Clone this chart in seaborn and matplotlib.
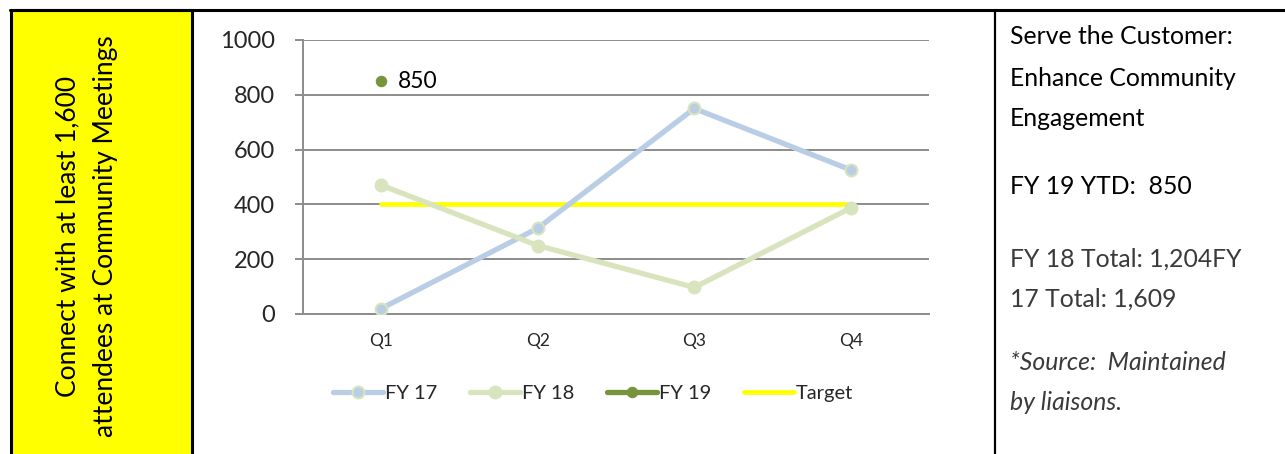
import matplotlib
matplotlib.use("Agg")
import matplotlib.pyplot as plt
import seaborn as sns
import pandas as pd
from matplotlib.lines import Line2D
from matplotlib.patches import Rectangle

quarters = ["Q1", "Q2", "Q3", "Q4"]
fy17 = [20, 313, 750, 526]
fy18 = [470, 250, 97, 387]
fy19 = [850]
target = [400, 400, 400, 400]
yticks = [0, 200, 400, 600, 800, 1000]

series_names = ["FY 17", "FY 18", "FY 19", "Target"]
left_text = "Connect with at least 1,600\nattendees at Community Meetings"
right_head = ["Serve the Customer:", "Enhance Community", "Engagement"]
right_ytd = "FY 19 YTD:  850"
right_totals = ["FY 18 Total: 1,204FY", "17 Total: 1,609"]
right_source = ["*Source:  Maintained", "by liaisons."]

sns.set_theme(style="white")
plt.rcParams["font.family"] = ["Lato", "DejaVu Sans"]

W, H = 1285, 454
fig = plt.figure(figsize=(W / 100, H / 100), dpi=100)
fig.patch.set_facecolor("white")

def fx(px):
    return px / W

def fy(py):
    return 1 - py / H

# frame and panels
fig.add_artist(Rectangle((fx(11), fy(460)), fx(181), (460 - 10) / H, transform=fig.transFigure,
                         facecolor="#ffff00", edgecolor="black", linewidth=2.2, zorder=0))
fig.add_artist(Line2D([fx(10), 1.0], [fy(10), fy(10)], transform=fig.transFigure,
                      color="black", linewidth=2.2))
fig.add_artist(Line2D([fx(995), fx(995)], [fy(10), 0], transform=fig.transFigure,
                      color="black", linewidth=1.6))

fig.text(fx(87), fy(236), left_text, rotation=90, ha="center", va="center",
         fontsize=19, color="black", linespacing=1.62)

# right text
tx = fx(1010)
fs_r = 17.8
for i, s in enumerate(right_head):
    fig.text(tx, fy(37 + 41 * i), s, ha="left", va="center", fontsize=fs_r, color="black")
fig.text(tx, fy(187), right_ytd, ha="left", va="center", fontsize=fs_r, color="black")
for i, s in enumerate(right_totals):
    fig.text(tx, fy(259 + 40 * i), s, ha="left", va="center", fontsize=fs_r,
             color="#3a3a3a")
for i, s in enumerate(right_source):
    fig.text(tx, fy(362 + 40 * i), s, ha="left", va="center", fontsize=fs_r,
             color="#3a3a3a", style="italic")

# chart
ax = fig.add_axes([fx(303), fy(314), fx(929 - 303), (314 - 40) / H])
pos = list(range(len(quarters)))
df17 = pd.DataFrame({"x": pos, "y": fy17})
df18 = pd.DataFrame({"x": pos, "y": fy18})
df19 = pd.DataFrame({"x": pos[:len(fy19)], "y": fy19})
dft = pd.DataFrame({"x": pos, "y": target})

ax.set_ylim(0, 1000)
ax.set_xlim(-0.5, len(quarters) - 0.5)
ax.set_yticks(yticks)
ax.yaxis.grid(True, color="#8c8c8c", linewidth=1.4)
ax.set_axisbelow(True)

sns.lineplot(data=df17, x="x", y="y", ax=ax, color="#b9cde5", linewidth=3.8, marker="o",
             markersize=8.5, markerfacecolor="#b9cde5", markeredgecolor="#d7e4bd",
             markeredgewidth=1.5, label=series_names[0], zorder=3)
sns.lineplot(data=df18, x="x", y="y", ax=ax, color="#d7e4bd", linewidth=3.8, marker="o",
             markersize=8.5, markerfacecolor="#d7e4bd", markeredgecolor="#d7e4bd",
             markeredgewidth=1.5, label=series_names[1], zorder=3)
sns.lineplot(data=df19, x="x", y="y", ax=ax, color="#77933c", linewidth=3.8, marker="o",
             markersize=7.5, markerfacecolor="#77933c", markeredgecolor="#77933c",
             label=series_names[2], zorder=4)
sns.lineplot(data=dft, x="x", y="y", ax=ax, color="#ffff00", linewidth=3.4,
             label=series_names[3], zorder=2)

for xi, v in zip(pos, fy19):
    ax.annotate(f"{v}", (xi, v), xytext=(12, 0), textcoords="offset points",
                ha="left", va="center", fontsize=16.5, color="black")

ax.set_xticks(pos)
ax.set_xticklabels(quarters, fontsize=12.5)
ax.set_xticks([p - 0.5 for p in pos] + [len(quarters) - 0.5], minor=True)
ax.tick_params(axis="x", which="major", length=0, pad=14)
ax.tick_params(axis="x", which="minor", length=6, width=1.4, color="#8c8c8c", direction="out")
ax.tick_params(axis="y", which="major", length=6, width=1.4, color="#8c8c8c",
               direction="out", labelsize=17, pad=14, left=True)
ax.set_xlabel("")
ax.set_ylabel("")
for side in ["top", "right"]:
    ax.spines[side].set_visible(False)
for side in ["left", "bottom"]:
    ax.spines[side].set_color("#8c8c8c")
    ax.spines[side].set_linewidth(1.4)

handles, labels = ax.get_legend_handles_labels()
ax.get_legend().remove()
fig.legend(handles, labels, loc="center", bbox_to_anchor=(fx(593), fy(393)), ncol=4,
           frameon=False, fontsize=14.5, handlelength=2.5, handletextpad=0.1,
           columnspacing=1.6)

fig.savefig("out.png", dpi=100, facecolor="white")
